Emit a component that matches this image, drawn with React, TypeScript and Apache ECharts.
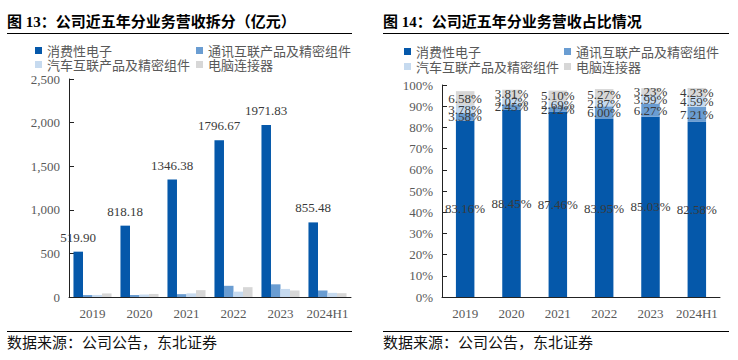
import React, { useEffect, useRef } from "react";
import * as echarts from "echarts";

const years = ["2019", "2020", "2021", "2022", "2023", "2024H1"];
const seriesNames = ["消费性电子", "通讯互联产品及精密组件", "汽车互联产品及精密组件", "电脑连接器"];

// 亿元
const consumerRevenue = [519.9, 818.18, 1346.38, 1796.67, 1971.83, 855.48];
const telecomRevenue = [22.4, 22.7, 32.6, 128.4, 145.4, 74.7];
const autoRevenue = [23.6, 28.4, 41.4, 61.4, 92.5, 47.5];
const computerRevenue = [41.1, 35.2, 78.5, 112.8, 74.9, 43.8];

// %
const consumerShare = [83.16, 88.45, 87.46, 83.95, 85.03, 82.58];
const telecomShare = [3.58, 2.45, 2.12, 6.0, 6.27, 7.21];
const autoShare = [3.78, 3.07, 2.69, 2.87, 3.99, 4.59];
const computerShare = [6.58, 3.81, 5.1, 5.27, 3.23, 4.23];

const titleLeft = "图 13：公司近五年分业务营收拆分（亿元）";
const titleRight = "图 14：公司近五年分业务营收占比情况";
const sourceText = "数据来源：公司公告，东北证券";

const colors = ["#0558AA", "#6A9DD2", "#C6DAEF", "#D7D7D7"];
const SERIF = "'Liberation Serif', 'Noto Sans CJK SC', serif";
const CJK = "'Noto Sans CJK SC', sans-serif";
const axisGray = "#595959";

export default function App() {
  const ref = useRef<HTMLDivElement>(null);
  useEffect(() => {
    if (!ref.current) return;
    const chart = echarts.init(ref.current, undefined, { renderer: "svg" });

    const legendBase = {
      orient: "vertical",
      itemWidth: 7,
      itemHeight: 7,
      padding: 0,
      icon: "rect",
      selectedMode: false,
      textStyle: { fontFamily: CJK, fontSize: 13, color: axisGray },
    };

    const yAxisCommon = {
      axisLine: { show: true, lineStyle: { color: "#222", width: 1 } },
      axisTick: { show: true, inside: true, length: 5, lineStyle: { color: "#222" } },
      splitLine: { show: false },
      axisLabel: { fontFamily: SERIF, fontSize: 13, color: axisGray, margin: 9 },
    };
    const xAxisCommon = {
      type: "category",
      data: years,
      axisLine: { show: true, lineStyle: { color: "#222", width: 1 } },
      axisTick: { show: false },
      axisLabel: { fontFamily: SERIF, fontSize: 13, color: axisGray, margin: 10, interval: 0 },
    };

    const revenueData = [consumerRevenue, telecomRevenue, autoRevenue, computerRevenue];
    const shareData = [consumerShare, telecomShare, autoShare, computerShare];

    const leftSeries = revenueData.map((d, i) => ({
      name: seriesNames[i],
      type: "bar",
      xAxisIndex: 0,
      yAxisIndex: 0,
      data: d,
      barGap: "0%",
      barCategoryGap: "19%",
      itemStyle: { color: colors[i] },
      label:
        i === 0
          ? {
              show: true,
              position: "top",
              distance: 8,
              fontFamily: SERIF,
              fontSize: 13,
              color: "#3a3a3a",
              formatter: (p: any) => Number(p.value).toFixed(2),
            }
          : { show: false },
    }));

    const rightSeries = shareData.map((d, i) => ({
      name: seriesNames[i],
      type: "bar",
      xAxisIndex: 1,
      yAxisIndex: 1,
      stack: "share",
      data: d,
      barWidth: 18.5,
      itemStyle: { color: colors[i] },
      label: {
        show: true,
        position: "inside",
        fontFamily: SERIF,
        fontSize: 13,
        color: "#3a3a3a",
        formatter: (p: any) => Number(p.value).toFixed(2) + "%",
      },
    }));

    chart.setOption({
      animation: false,
      backgroundColor: "#ffffff",
      legend: [
        { ...legendBase, left: 35, top: 44, itemGap: 1, data: [seriesNames[0], seriesNames[2]] },
        { ...legendBase, left: 196, top: 44, itemGap: 1, data: [seriesNames[1], seriesNames[3]] },
        { ...legendBase, left: 404, top: 45, itemGap: 2, data: [seriesNames[0], seriesNames[2]] },
        { ...legendBase, left: 564, top: 45, itemGap: 2, data: [seriesNames[1], seriesNames[3]] },
      ],
      grid: [
        { left: 69, right: 387, top: 79, bottom: 63, containLabel: false },
        { left: 442, right: 18, top: 85, bottom: 63, containLabel: false },
      ],
      xAxis: [
        { ...xAxisCommon, gridIndex: 0 },
        { ...xAxisCommon, gridIndex: 1 },
      ],
      yAxis: [
        {
          ...yAxisCommon,
          type: "value",
          gridIndex: 0,
          min: 0,
          max: 2500,
          interval: 500,
          axisLabel: {
            ...yAxisCommon.axisLabel,
            formatter: (v: number) => v.toLocaleString("en-US"),
          },
        },
        {
          ...yAxisCommon,
          type: "value",
          gridIndex: 1,
          min: 0,
          max: 100,
          interval: 10,
          axisLabel: { ...yAxisCommon.axisLabel, formatter: "{value}%" },
        },
      ],
      series: [...leftSeries, ...rightSeries],
      graphic: [
        {
          type: "text",
          left: 7,
          top: 14,
          style: { text: titleLeft, font: `bold 15px ${SERIF}`, fill: "#000" },
        },
        {
          type: "text",
          left: 383,
          top: 14,
          style: { text: titleRight, font: `bold 15px ${SERIF}`, fill: "#000" },
        },
        { type: "line", shape: { x1: 7, y1: 33.5, x2: 352, y2: 33.5 }, style: { stroke: "#000", lineWidth: 1.2 } },
        { type: "line", shape: { x1: 383, y1: 33.5, x2: 729, y2: 33.5 }, style: { stroke: "#000", lineWidth: 1.2 } },
        { type: "line", shape: { x1: 7, y1: 331.5, x2: 352, y2: 331.5 }, style: { stroke: "#000", lineWidth: 1.2 } },
        { type: "line", shape: { x1: 383, y1: 331.5, x2: 729, y2: 331.5 }, style: { stroke: "#000", lineWidth: 1.2 } },
        {
          type: "text",
          left: 7,
          top: 334,
          style: { text: sourceText, font: `15px ${CJK}`, fill: "#111" },
        },
        {
          type: "text",
          left: 383,
          top: 334,
          style: { text: sourceText, font: `15px ${CJK}`, fill: "#111" },
        },
      ],
    });
    return () => chart.dispose();
  }, []);

  return (
    <div
      ref={ref}
      style={{ position: "fixed", left: 0, top: 0, width: 738, height: 360, background: "#fff" }}
    />
  );
}
